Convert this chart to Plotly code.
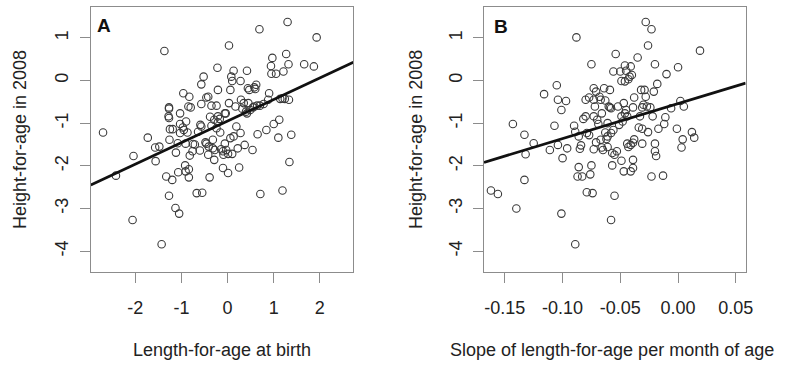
import plotly.graph_objects as go

# ---------------- data ----------------
# Panel A: length-for-age at birth vs height-for-age in 2008
laz_birth = [-2.70, -2.42, -2.04, -2.06, -1.73, -1.57, -1.48, -1.56, -1.37, -1.43,
             -1.33, -1.27, -1.27, -1.28, -1.27, -1.25, -1.19, -1.26, -1.27, -1.20,
             -1.12, -1.08, -1.13, -1.05, -1.07, -1.03, -1.03, -0.96, -0.97, -0.95,
             -0.87, -0.90, -0.92, -0.91, -0.84, -0.84, -0.83, -0.85, -0.80, -0.82,
             -0.76, -0.71, -0.67, -0.55, -0.60, -0.59, -0.57, -0.57, -0.52, -0.57,
             -0.46, -0.46, -0.41, -0.42, -0.39, -0.38, -0.35, -0.35, -0.32, -0.32,
             -0.29, -0.24, -0.22, -0.21, -0.21, -0.17, -0.21, -0.16, -0.28, -0.14,
             -0.10, -0.09, -0.06, -0.04, -0.03, 0.01, 0.03, 0.03, 0.06, 0.08,
             0.10, 0.13, 0.06, 0.10, 0.17, 0.19, 0.22, 0.25, 0.28, 0.29,
             0.28, 0.32, 0.37, 0.42, 0.44, 0.47, 0.45, 0.42, 0.49, 0.54,
             0.58, 0.62, 0.60, 0.65, 0.69, 0.70, 0.71, 0.84, 0.90, 0.94,
             0.95, 0.97, 1.00, 1.05, 1.12, 1.10, 1.14, 1.19, 1.21, 1.24,
             1.27, 1.30, 1.32, 1.33, 1.34, 1.38, 1.66, 1.87, 1.93, -0.91,
             -0.48, 0.13, 0.55, 0.64, 0.78, 0.88, 1.19, 0.40, 0.35, 0.01,
             -0.24, -0.29, -0.10, -0.64, -0.75, -1.03, 0.58, -0.06, -0.42]
haz_a = [-1.22, -2.23, -1.77, -3.27, -1.34, -1.57, -1.55, -1.89, 0.69, -3.84,
         -2.25, -0.63, -0.66, -0.84, -0.88, -1.14, -1.14, -1.39, -2.70, -2.33,
         -1.69, -1.47, -2.99, -3.12, -2.15, -0.77, -1.02, -0.30, -1.10, -1.16,
         -1.22, -0.96, -1.99, -2.13, -2.08, -2.27, -0.38, -0.61, -0.63, -1.76,
         -1.66, -1.50, -2.64, -2.63, -1.64, -1.04, -1.08, -0.09, 0.09, -0.55,
         -0.40, -1.48, -1.55, -1.74, -2.27, -0.85, -0.59, -1.06, -1.39, -1.59,
         -1.86, -0.59, 0.30, -0.22, -0.84, -0.90, -0.98, -1.22, -1.63, -1.61,
         -2.05, -1.74, -1.48, -0.77, -1.63, -2.17, 0.82, -0.53, -0.22, 0.09,
         -0.01, 0.23, -1.35, -1.72, -0.61, -1.08, -1.59, -2.04, -0.01, -0.45,
         -1.23, -0.66, -1.51, 0.23, -0.18, -0.22, -0.53, -0.77, -0.69, -1.63,
         -0.61, -0.10, -0.20, -1.26, 1.20, -0.59, -2.66, -1.16, -0.30, 0.34,
         0.16, 0.53, -1.02, 0.16, -0.92, -1.34, -0.43, -2.58, 0.21, -0.43,
         0.62, 1.37, 0.38, -0.45, -1.91, -1.27, 0.38, 0.33, 1.01, -1.48,
         -1.45, -1.31, -0.63, -0.59, -0.55, -0.45, -0.42, -0.73, -0.53, -1.72,
         -1.12, -0.92, -1.66, -1.20, -1.49, -1.23, -0.16, -0.77, -0.38]

# Panel B: slope of length-for-age per month of age vs height-for-age in 2008
laz_slope = [-0.162, -0.156, -0.143, -0.140, -0.133, -0.132, -0.133, -0.125, -0.116, -0.111,
             -0.107, -0.105, -0.104, -0.104, -0.101, -0.100, -0.101, -0.097, -0.096, -0.090,
             -0.089, -0.088, -0.089, -0.086, -0.086, -0.087, -0.085, -0.084, -0.083, -0.082,
             -0.080, -0.080, -0.079, -0.079, -0.077, -0.076, -0.075, -0.075, -0.074, -0.073,
             -0.073, -0.072, -0.071, -0.071, -0.070, -0.069, -0.068, -0.067, -0.066, -0.066,
             -0.064, -0.063, -0.063, -0.062, -0.061, -0.061, -0.060, -0.059, -0.059, -0.058,
             -0.058, -0.057, -0.057, -0.056, -0.056, -0.055, -0.055, -0.054, -0.053, -0.052,
             -0.050, -0.049, -0.049, -0.048, -0.047, -0.047, -0.046, -0.046, -0.046, -0.045,
             -0.044, -0.044, -0.043, -0.042, -0.041, -0.041, -0.040, -0.039, -0.039, -0.039,
             -0.039, -0.038, -0.038, -0.035, -0.034, -0.033, -0.032, -0.031, -0.031, -0.030,
             -0.029, -0.028, -0.028, -0.027, -0.026, -0.026, -0.024, -0.023, -0.023, -0.022,
             -0.021, -0.020, -0.020, -0.020, -0.019, -0.018, -0.017, -0.013, -0.012, -0.011,
             -0.010, -0.006, -0.001, 0.000, 0.002, 0.003, 0.004, 0.005, 0.012, 0.014,
             0.019, -0.073, -0.067, -0.058, -0.049, -0.041, -0.045, -0.061, -0.065, -0.077,
             -0.043, -0.031, -0.073, -0.051]
haz_b = [-2.58, -2.66, -1.02, -3.00, -1.27, -1.73, -2.33, -1.47, -0.32, -1.63,
         -1.06, -0.11, -1.51, -0.45, -0.69, -1.82, -3.12, -0.48, -1.59, -1.06,
         -1.20, 1.01, -3.84, -1.31, -2.03, -2.25, -1.60, -1.52, -2.25, -0.90,
         -0.84, -0.45, -1.23, -2.62, -0.40, -2.20, -1.99, 0.38, -2.64, -0.18,
         -1.61, -0.61, -0.26, -1.45, -0.92, -1.02, -0.38, -1.39, -0.77, -1.57,
         -0.18, -0.47, -1.22, -1.37, -1.56, -1.00, -0.61, -0.22, -0.63, -1.23,
         -3.27, -1.99, -1.70, 0.21, -1.16, -2.70, -1.74, 0.62, -1.66, -0.61,
         0.21, -1.88, -0.01, -0.96, -2.13, -0.53, 0.35, -0.02, -0.77, 0.23,
         -0.84, -1.48, -1.56, 0.09, 0.33, -2.13, 0.13, -0.63, -1.46, -2.05,
         -1.86, -0.40, -1.38, 0.54, -1.10, -0.84, -0.22, -1.13, -1.48, -0.57,
         -0.22, 1.37, -0.38, -0.61, -1.21, 0.82, -0.63, 1.20, -2.25, -0.84,
         -0.26, 0.38, -1.48, -1.66, -1.77, -0.08, -1.13, -2.23, -1.02, -0.86,
         0.15, -0.65, -1.13, 0.31, -0.48, -1.57, -1.38, -0.61, -1.21, -1.34,
         0.70, -0.45, -0.45, -0.65, -0.84, -1.51, -0.69, -1.31, -1.63, -1.28,
         0.03, -0.63, -0.84, -1.04]

# fitted regression lines (intercept, slope)
fit_a = (-0.95, 0.505)
fit_b = (-0.54, 8.21)

xticks_a = [-2, -1, 0, 1, 2]
xticklabels_a = ["-2", "-1", "0", "1", "2"]
xticks_b = [-0.15, -0.10, -0.05, 0.00, 0.05]
xticklabels_b = ["-0.15", "-0.10", "-0.05", "0.00", "0.05"]
yticks = [-4, -3, -2, -1, 0, 1]
yticklabels = ["-4", "-3", "-2", "-1", "0", "1"]

xlabel_a = "Length-for-age at birth"
xlabel_b = "Slope of length-for-age per month of age"
ylabel = "Height-for-age in 2008"
panel_labels = ["A", "B"]

# ---------------- styling ----------------
W, H = 785, 369
FONT = "Liberation Sans, Arial, sans-serif"
TXT = "#222222"
BOX = "#8c8c8c"

xr_a = [-2.966, 2.726]
xr_b = [-0.168, 0.0585]
yr = [-4.482, 1.730]

dom_a = [91.7 / W, 357.0 / W]
dom_b = [489.0 / W, 753.3 / W]
dom_y = [1 - 271.7 / H, 1 - 6.7 / H]

fig = go.Figure()

marker = dict(symbol="circle-open", size=7.5, color="#3a3a3a", line=dict(width=1.1, color="#3a3a3a"))

fig.add_trace(go.Scatter(x=laz_birth, y=haz_a, mode="markers", marker=marker,
                         xaxis="x", yaxis="y", showlegend=False, cliponaxis=True))
fig.add_trace(go.Scatter(x=laz_slope, y=haz_b, mode="markers", marker=marker,
                         xaxis="x2", yaxis="y2", showlegend=False, cliponaxis=True))

# regression lines across the plotting region
for fit, xr, xa, ya in [(fit_a, xr_a, "x", "y"), (fit_b, xr_b, "x2", "y2")]:
    xs = [xr[0], xr[1]]
    ys = [fit[0] + fit[1] * v for v in xs]
    fig.add_trace(go.Scatter(x=xs, y=ys, mode="lines", line=dict(color="#111111", width=2.8),
                             xaxis=xa, yaxis=ya, showlegend=False, cliponaxis=True))

axis_common = dict(showline=True, mirror=True, linecolor=BOX, linewidth=1.3,
                   showgrid=False, zeroline=False, ticks="outside", ticklen=10,
                   tickwidth=1.3, tickcolor=BOX,
                   tickfont=dict(family=FONT, size=18, color=TXT))

fig.update_layout(
    width=W, height=H,
    margin=dict(l=0, r=0, t=0, b=0),
    paper_bgcolor="white", plot_bgcolor="white",
    xaxis=dict(domain=dom_a, range=xr_a, tickvals=xticks_a, ticktext=xticklabels_a,
               anchor="y", ticklabelstandoff=10, **axis_common),
    yaxis=dict(domain=dom_y, range=yr, tickvals=yticks, ticktext=yticklabels,
               anchor="x", tickangle=-90, ticklabelstandoff=4, **axis_common),
    xaxis2=dict(domain=dom_b, range=xr_b, tickvals=xticks_b, ticktext=xticklabels_b,
                anchor="y2", ticklabelstandoff=10, **axis_common),
    yaxis2=dict(domain=dom_y, range=yr, tickvals=yticks, ticktext=yticklabels,
                anchor="x2", tickangle=-90, ticklabelstandoff=4, **axis_common),
)

ann = []
# axis titles
for cx, lab in [((dom_a[0] + dom_a[1]) / 2, xlabel_a), ((dom_b[0] + dom_b[1]) / 2 - 3 / W, xlabel_b)]:
    ann.append(dict(x=cx, y=1 - 350 / H, xref="paper", yref="paper", text=lab, showarrow=False,
                    xanchor="center", yanchor="middle", font=dict(family=FONT, size=18, color=TXT)))
for px in [20, 420]:
    ann.append(dict(x=px / W, y=(dom_y[0] + dom_y[1]) / 2, xref="paper", yref="paper", text=ylabel,
                    showarrow=False, textangle=-90, xanchor="center", yanchor="middle",
                    font=dict(family=FONT, size=18, color=TXT)))
# panel letters
for (px, py), lab in zip([(105, 26), (506.5, 26.5)], panel_labels):
    ann.append(dict(x=px / W, y=1 - py / H, xref="paper", yref="paper", text="<b>%s</b>" % lab,
                    showarrow=False, xanchor="center", yanchor="middle",
                    font=dict(family=FONT, size=19, color="#111111")))
fig.update_layout(annotations=ann)

fig.write_html("out.html")
